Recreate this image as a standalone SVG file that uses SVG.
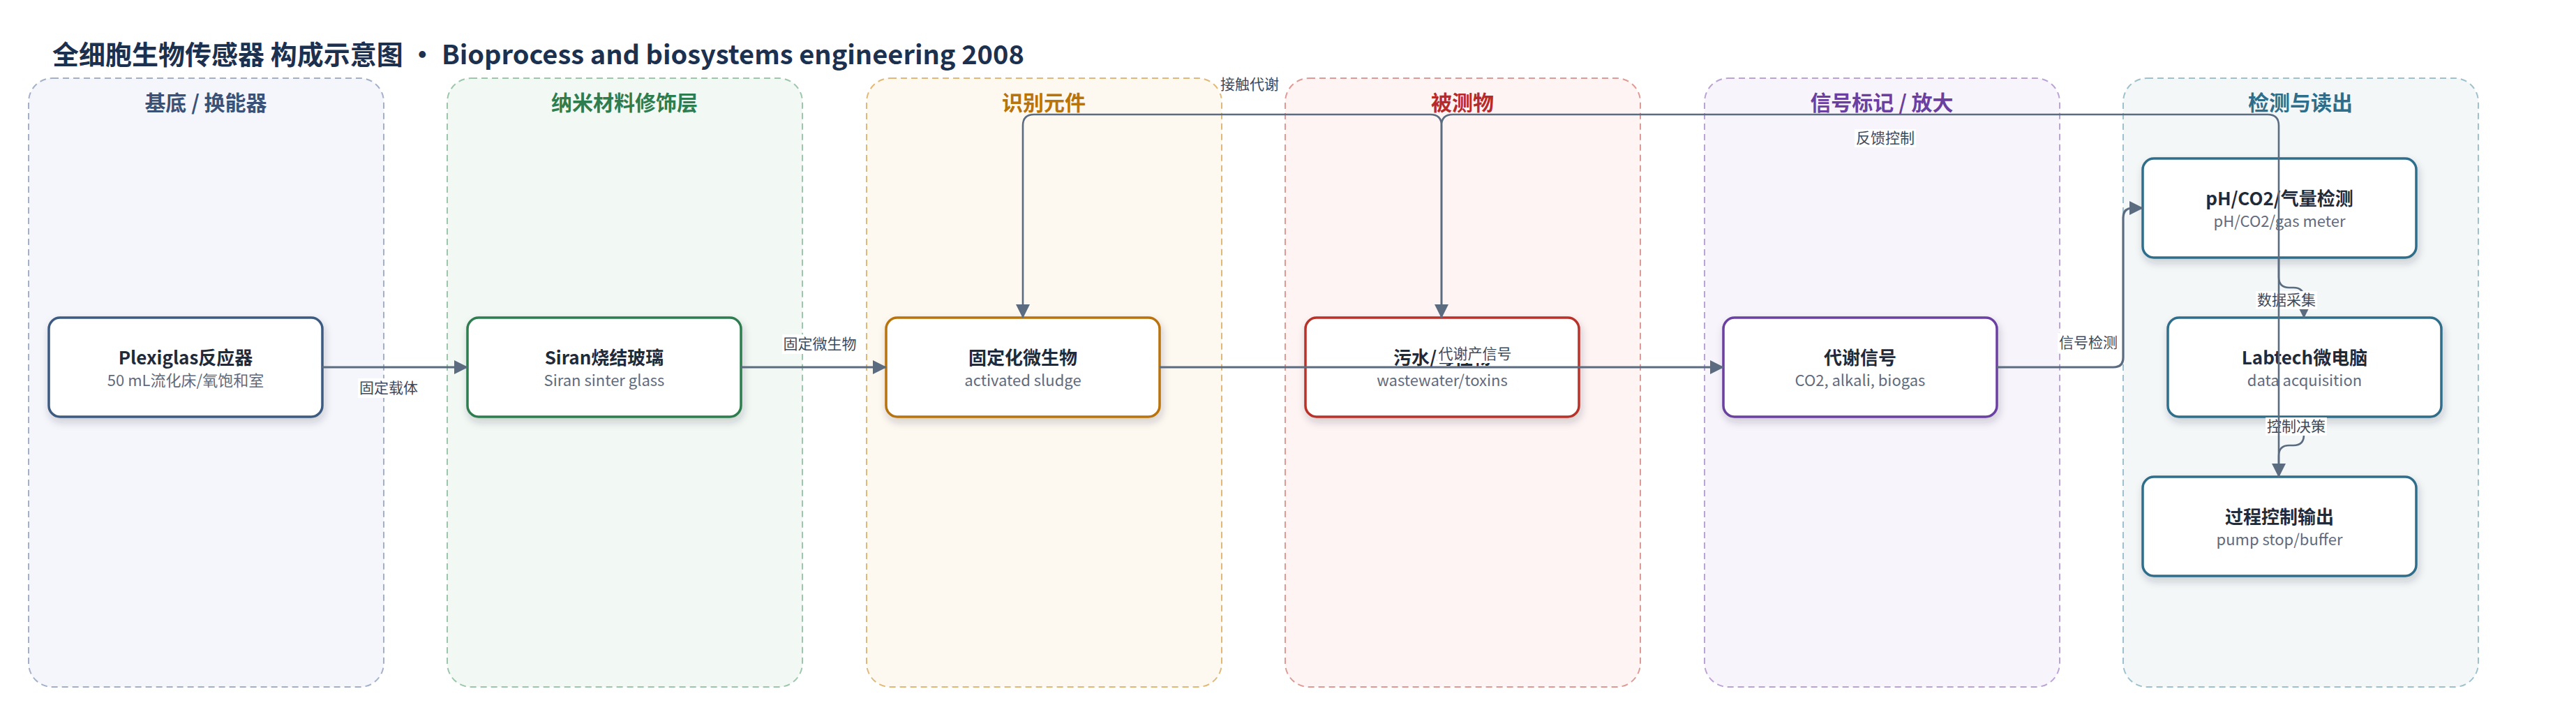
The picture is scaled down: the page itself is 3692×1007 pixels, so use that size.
<svg xmlns="http://www.w3.org/2000/svg" width="3692" height="1007" viewBox="0 0 3692 1007">
<style>
text{font-family:"Noto Sans CJK SC","Noto Sans",sans-serif}
.title{font-size:38px;font-weight:700;fill:#1c3150}
.lane{stroke-width:2;stroke-dasharray:9 6}
.lt{font-size:30px;font-weight:700;text-anchor:middle}
.node{fill:#fff;stroke-width:3.5;filter:url(#sh)}
.nt{font-size:26px;font-weight:700;fill:#1f2a3a;text-anchor:middle}
.ns{font-size:22px;fill:#5f6b7d;text-anchor:middle}
.e{fill:none;stroke:#5b6b80;stroke-width:2.6}
.em{fill:none;stroke:#5b6b80;stroke-width:3.2}
.lb{fill:#fff}
.el{font-size:21px;fill:#3d4a5c;text-anchor:middle}
</style>
<defs>
<filter id="sh" x="-10%" y="-20%" width="120%" height="150%">
<feDropShadow dx="2" dy="6" stdDeviation="6" flood-color="#1f2a3a" flood-opacity="0.2"/>
</filter>
<marker id="ar" markerUnits="userSpaceOnUse" viewBox="0 0 20 20" markerWidth="20" markerHeight="20" refX="19" refY="10" orient="auto">
<path d="M0,0 L20,10 L0,20 z" fill="#5b6b80"/>
</marker>
</defs>
<rect width="3692" height="1007" fill="#fff"/>
<text class="title" x="75" y="92">全细胞生物传感器 构成示意图 • Bioprocess and biosystems engineering 2008</text>

<g id="lanes">
<g id="lane-substrate"><rect class="lane" x="41" y="112" width="509" height="872" rx="34" fill="#f5f6fb" stroke="#a3b0c8"/><text class="lt" x="295" y="158" fill="#3a5278">基底 / 换能器</text></g>
<g id="lane-nano"><rect class="lane" x="641" y="112" width="509" height="872" rx="34" fill="#f2f8f4" stroke="#9dc6ab"/><text class="lt" x="895" y="158" fill="#2e7d4f">纳米材料修饰层</text></g>
<g id="lane-recog"><rect class="lane" x="1242" y="112" width="509" height="872" rx="34" fill="#fdf8f0" stroke="#e0b978"/><text class="lt" x="1496" y="158" fill="#b8730a">识别元件</text></g>
<g id="lane-analyte"><rect class="lane" x="1842" y="112" width="509" height="872" rx="34" fill="#fdf4f3" stroke="#e09a96"/><text class="lt" x="2096" y="158" fill="#b82a2a">被测物</text></g>
<g id="lane-signal"><rect class="lane" x="2443" y="112" width="509" height="872" rx="34" fill="#f7f4fb" stroke="#bba3d6"/><text class="lt" x="2697" y="158" fill="#6b3fa0">信号标记 / 放大</text></g>
<g id="lane-detect"><rect class="lane" x="3043" y="112" width="509" height="872" rx="34" fill="#f3f7f8" stroke="#9fc1cd"/><text class="lt" x="3297" y="158" fill="#2f6e8a">检测与读出</text></g>
</g>

<g id="n1"><rect class="node" x="70" y="455" width="392" height="142" rx="16" stroke="#3d5a80"/><text class="nt" x="266" y="522">Plexiglas反应器</text><text class="ns" x="266" y="553">50 mL流化床/氧饱和室</text></g>
<g id="n2"><rect class="node" x="670" y="455" width="392" height="142" rx="16" stroke="#2e7d4f"/><text class="nt" x="866" y="522">Siran烧结玻璃</text><text class="ns" x="866" y="553">Siran sinter glass</text></g>
<g id="n3"><rect class="node" x="1270" y="455" width="392" height="142" rx="16" stroke="#b8730a"/><text class="nt" x="1466" y="522">固定化微生物</text><text class="ns" x="1466" y="553">activated sludge</text></g>
<g id="n4"><rect class="node" x="1871" y="455" width="392" height="142" rx="16" stroke="#b8302a"/><text class="nt" x="2067" y="522">污水/毒性物</text><text class="ns" x="2067" y="553">wastewater/toxins</text></g>
<g id="n5"><rect class="node" x="2470" y="455" width="392" height="142" rx="16" stroke="#6b3fa0"/><text class="nt" x="2666" y="522">代谢信号</text><text class="ns" x="2666" y="553">CO2, alkali, biogas</text></g>
<g id="n6"><rect class="node" x="3071" y="227" width="392" height="142" rx="16" stroke="#2f6e8a"/><text class="nt" x="3267" y="294">pH/CO2/气量检测</text><text class="ns" x="3267" y="325">pH/CO2/gas meter</text></g>
<g id="n7"><rect class="node" x="3107" y="455" width="392" height="142" rx="16" stroke="#2f6e8a"/><text class="nt" x="3303" y="522">Labtech微电脑</text><text class="ns" x="3303" y="553">data acquisition</text></g>
<g id="n8"><rect class="node" x="3071" y="683" width="392" height="142" rx="16" stroke="#2f6e8a"/><text class="nt" x="3267" y="750">过程控制输出</text><text class="ns" x="3267" y="781">pump stop/buffer</text></g>

<g id="connectors">
<path class="em" d="M462,526 H670" marker-end="url(#ar)"/>
<rect class="lb" x="513" y="542" width="88" height="28"/><text class="el" x="557" y="563">固定载体</text>
<path class="em" d="M1062,526 H1270" marker-end="url(#ar)"/>
<rect class="lb" x="1121" y="479" width="109" height="28"/><text class="el" x="1175" y="500">固定微生物</text>
<path class="em" d="M1662,526 H2470" marker-end="url(#ar)"/>
<rect class="lb" x="2060" y="494" width="109" height="26"/><text class="el" x="2114" y="514">代谢产信号</text>
<path class="em" d="M2862,526 H3029 Q3043,526 3043,512 V312 Q3043,298 3057,298 H3071" marker-end="url(#ar)"/>
<rect class="lb" x="2949" y="477" width="88" height="28"/><text class="el" x="2993" y="498">信号检测</text>
<path class="e" d="M3266,369 V397 Q3266,412 3281,412 H3287 Q3302,412 3302,427 V455" marker-end="url(#ar)"/>
<rect class="lb" x="3233" y="417" width="88" height="26"/><text class="el" x="3277" y="437">数据采集</text>
<path class="e" d="M3302,597 V623 Q3302,638 3287,638 H3281 Q3266,638 3266,653 V683" marker-end="url(#ar)"/>
<rect class="lb" x="3247" y="598" width="88" height="26"/><text class="el" x="3291" y="618">控制决策</text>
<path class="e" d="M2066,455 V180 Q2066,164 2050,164 H1482 Q1466,164 1466,180 V455" marker-end="url(#ar)"/>
<rect class="lb" x="1747" y="108" width="88" height="26"/><text class="el" x="1791" y="128">接触代谢</text>
<path class="e" d="M3266,683 V180 Q3266,164 3250,164 H2082 Q2066,164 2066,180 V455" marker-end="url(#ar)"/>
<rect class="lb" x="2658" y="185" width="88" height="26"/><text class="el" x="2702" y="205">反馈控制</text>
</g>
</svg>
